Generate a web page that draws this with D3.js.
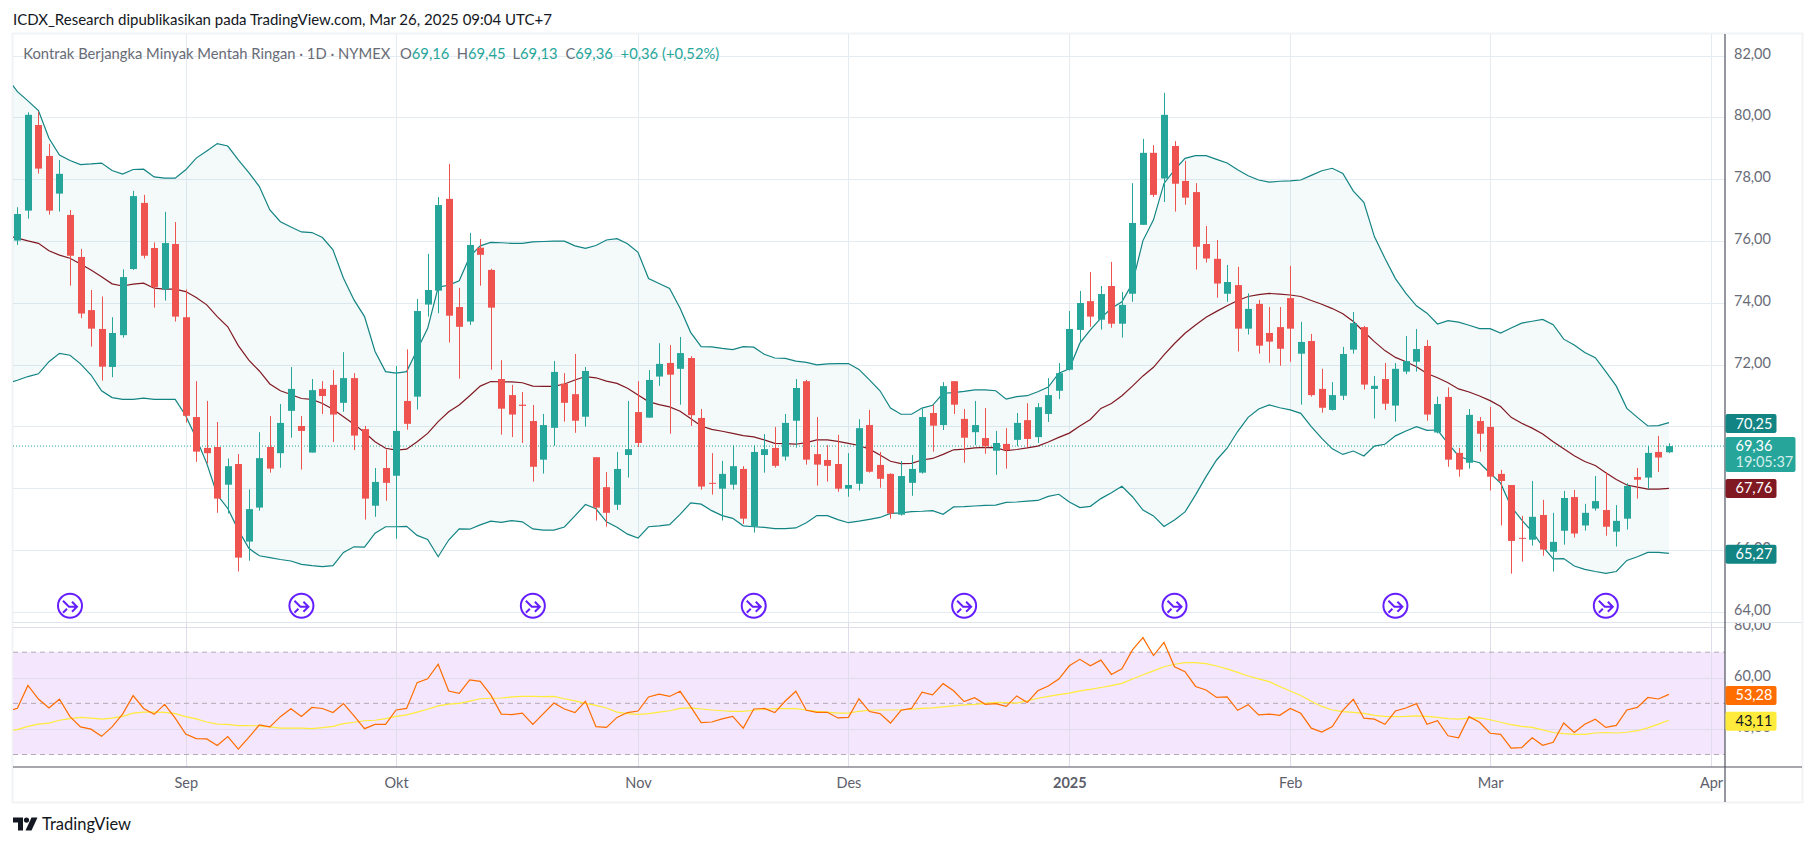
<!DOCTYPE html>
<head>
   <meta charset="utf-8">
   <script src="https://d3js.org/d3.v7.min.js"></script>
   <style>
   body{ margin: 0; background: #ffffff; }
   svg{ display: block; }
   text{ font-family: Lato, sans-serif; }
   .domain{ display: none; }
   .grid .tick line{ stroke: #e4ecf2; shape-rendering: crispEdges; }
   .grid text{ display: none; }
   .priceAxis text{ font-size: 14.5px; fill: #686b76; }
   .timeAxis text{ font-size: 14.5px; fill: #5d606b; }
   .priceAxis line, .timeAxis line{ display: none; }
   </style>
</head>

<body>
   <script>
// candles, one entry per daily bar
const open = [76.01,76.98,79.75,78.75,77.53,76.84,75.48,73.76,73.15,71.92,72.95,75.09,77.23,75.77,74.43,75.9,73.53,70.3,69.3,69.33,68.11,68.78,66.27,67.37,69.33,69.13,70.5,70.01,69.15,71.21,71.34,70.76,71.56,69.91,67.43,68.65,68.4,70.82,70.96,73.94,74.39,77.36,73.86,73.39,75.78,75.06,71.53,71.01,70.7,70.17,68.92,69.95,71.38,71.04,70.31,69,68.03,67.46,69.07,70.46,70.28,71.61,72.05,71.86,72.21,70.27,68.17,67.98,68.11,68.62,66.75,69.07,69.3,69.02,70.18,71.46,69.1,68.91,68.78,67.98,68.14,70.04,68.75,68.46,67.14,68.17,68.5,70.43,70.04,71.46,70.24,69.81,69.62,69.21,69.43,69.56,70.2,69.65,70.4,71.15,71.83,73.12,74.05,73.45,74.54,73.32,74.29,76.52,78.85,78.02,79.07,77.94,77.58,75.9,75.42,74.29,74.57,73.16,73.96,73.02,73.21,74.15,72.35,72.76,71.21,70.53,70.99,72.48,73.21,71.21,71.53,70.67,71.77,72.09,72.6,69.8,70.95,69.14,68.82,70.17,69.98,68.46,68.1,66.39,66.33,67.13,65.94,66.62,67.71,66.79,67.34,67.29,66.59,67.01,68.36,68.34,69.17,69.16];
const high = [77.09,80.16,80.18,79.14,78.62,77,75.74,74.41,74.2,73.53,75.08,77.62,77.49,75.95,76.94,76.61,74.43,71.46,70.82,70.14,68.96,69.1,67.96,69.81,70.33,70.72,71.92,70.33,71.53,71.46,71.82,72.4,71.72,70.01,68.65,69.25,71.95,72.49,74.12,75.58,77.42,78.49,74.48,76.26,76.06,75.1,72.14,71.34,71.11,70.69,70.4,72.11,71.72,72.34,71.92,69,68.52,69.17,70.82,71.46,71.82,72.69,72.63,72.89,72.27,70.56,69.13,68.88,69.39,68.71,69.39,69.75,69.98,70.4,71.53,71.5,70.3,69.39,69.72,69.13,70.23,70.53,69.17,68.48,68.88,69.07,70.56,70.69,71.43,71.46,70.56,70.82,70.59,69.85,69.94,70.43,70.75,70.75,71.56,72.05,73.73,74.38,74.99,74.54,75.32,74.35,77.87,79.3,79.1,80.79,79.23,78.59,77.87,76.48,76.03,75.22,75.16,74.3,74.09,73.86,73.86,75.19,73.38,72.99,71.86,71.43,72.57,73.7,73.25,71.63,72.05,72.05,72.92,73.15,72.79,70.96,71.26,69.3,70.56,70.3,70.63,68.59,68.1,67.1,68.23,67.62,67.2,67.91,67.94,67.49,68.39,68.52,67.45,68.16,68.65,69.36,69.69,69.45];
const low = [75.87,76.72,78.18,76.85,76.95,74.55,73.5,72.58,71.48,71.59,72.87,75.06,75.43,73.84,74.07,73.39,70.12,68.85,68.8,67.2,67.18,65.3,65.65,67.27,68.5,68.66,69.63,68.6,69.15,70.4,69.49,70.47,69.23,66.98,67.07,67.59,66.36,69.89,70.54,73.55,73.66,72.71,71.54,73.28,74.55,71.83,69.73,69.65,69.46,68.21,68.47,69.37,70.15,69.79,69.99,66.95,66.75,67.29,68.34,69.33,70.28,71.31,69.76,70.7,70.01,67.95,67.79,66.95,67.95,66.84,66.56,68.5,68.66,68.89,69.31,68.76,68.08,68.21,67.88,67.72,67.92,68.5,68.01,67.01,67.11,67.75,68.47,69.18,69.88,70.4,68.82,69.39,69.11,68.43,68.63,69.36,69.33,69.46,70.14,70.88,71.8,72.74,73.22,73.13,73.19,72.87,74.03,76.52,77.42,77.26,76.95,77.17,75.07,75.3,74.16,74.03,72.42,72.97,72.35,72.06,71.96,72.09,70.7,70.96,70.44,70.51,70.85,72.35,71.19,70.25,70.53,70.15,71.69,71.77,70.18,69.77,68.69,68.37,68.63,69.18,67.92,66.79,65.23,65.62,66.14,65.81,65.3,66.17,66.4,66.62,67.27,66.46,66.11,66.66,67.66,67.97,68.52,69.13];
const close = [76.87,80.08,78.34,76.98,78.17,75.52,73.65,73.16,71.93,73.02,74.83,77.45,75.52,74.5,75.93,73.55,70.34,69.18,69.13,67.66,68.71,65.75,67.32,68.97,68.63,70.11,71.21,69.85,71.17,70.98,70.38,71.56,69.7,67.66,68.2,68.17,69.85,70.08,73.73,74.41,77.16,73.58,73.22,75.87,75.55,73.84,70.57,70.38,70.66,68.69,70.04,71.76,70.76,70.18,71.79,67.37,67.2,68.62,69.26,69.46,71.5,72.02,71.67,72.37,70.36,68.05,68.14,68.46,68.71,67.01,69.17,69.26,68.72,70.11,71.24,68.92,68.76,68.72,67.98,68.1,69.94,68.53,68.3,67.18,68.39,68.62,70.3,70.02,71.3,70.7,69.63,70.04,69.36,69.46,69.23,70.11,69.59,70.62,71.01,71.72,73.15,73.99,73.55,74.28,73.32,73.93,76.58,78.85,77.49,80.08,77.85,77.4,75.81,75.43,74.62,74.67,73.16,73.8,72.61,72.74,72.51,73.16,72.73,71.01,70.6,71.01,72.34,73.34,71.35,71.31,70.73,71.86,72.11,72.5,70.38,70.72,68.92,68.6,70.37,69.76,68.37,68.23,66.29,66.36,67.07,66.01,66.26,67.68,66.53,67.2,67.58,66.75,66.94,68.07,68.27,69.14,68.99,69.36];

// bollinger bands, first entry is one bar before the first candle
const bbUpper = [81.28,80.83,80.53,80.22,79.32,78.78,78.6,78.47,78.49,78.52,78.28,78.16,78.31,78.32,78.07,78.03,78.03,78.3,78.68,78.91,79.15,79.07,78.62,78.21,77.76,77,76.62,76.45,76.29,76.27,76.11,75.71,74.79,74.09,73.55,72.42,71.77,71.72,71.77,72.47,73.17,74.5,74.57,74.71,75.49,75.84,75.95,75.94,75.92,75.92,75.97,75.98,75.99,75.99,75.84,75.76,75.85,76.03,76.07,75.91,75.63,74.78,74.62,74.46,73.82,73.04,72.58,72.57,72.52,72.48,72.58,72.56,72.33,72.21,72.2,72.11,72.07,71.99,72.02,72.03,72.03,71.84,71.5,71.15,70.59,70.39,70.39,70.59,70.68,71.07,71.09,71.13,71.18,71.18,71.15,70.88,70.96,70.99,71.12,71.27,71.72,71.86,72.69,73.12,73.5,73.82,74.03,74.63,76.01,76.68,77.86,78.3,78.67,78.76,78.76,78.64,78.52,78.3,78.11,77.97,77.9,77.93,77.94,77.97,78.12,78.27,78.35,78.18,77.61,77.25,76.14,75.44,74.78,74.3,73.9,73.66,73.31,73.42,73.37,73.27,73.16,73.16,73.02,73.18,73.34,73.4,73.46,73.29,72.82,72.63,72.39,72.22,71.77,71.3,70.58,70.29,70.01,70.02,70.12];
const bbBasis = [76.16,76.09,76,75.92,75.68,75.54,75.44,75.25,75.06,74.84,74.61,74.54,74.6,74.63,74.47,74.44,74.44,74.36,74.17,73.93,73.55,73.22,72.61,72.14,71.79,71.37,71.15,71.03,70.9,70.87,70.74,70.55,70.31,70.07,69.8,69.5,69.29,69.23,69.26,69.5,69.77,70.15,70.47,70.69,70.99,71.3,71.45,71.44,71.44,71.41,71.3,71.29,71.29,71.37,71.5,71.61,71.57,71.46,71.39,71.23,71.01,70.8,70.7,70.63,70.49,70.25,70.01,69.9,69.84,69.77,69.7,69.66,69.56,69.45,69.44,69.42,69.47,69.56,69.56,69.51,69.45,69.38,69.26,69.07,68.87,68.79,68.8,68.91,68.96,69.09,69.24,69.26,69.3,69.32,69.31,69.21,69.25,69.3,69.36,69.49,69.64,69.78,70.01,70.22,70.58,70.74,70.99,71.3,71.63,71.91,72.31,72.68,73.01,73.28,73.53,73.72,73.9,74.07,74.2,74.26,74.3,74.28,74.25,74.2,74.07,73.95,73.81,73.64,73.39,73.06,72.74,72.45,72.23,72.09,71.93,71.71,71.57,71.41,71.21,71.11,70.98,70.83,70.64,70.29,70.1,69.94,69.75,69.5,69.27,69.05,68.86,68.73,68.5,68.28,68.1,68.03,67.97,67.97,67.99];
const bbLower = [71.39,71.49,71.61,71.7,72.09,72.36,72.3,72.02,71.66,71.15,70.93,70.87,70.87,70.91,70.87,70.87,70.87,70.34,69.61,68.8,67.78,67.34,66.64,66.05,65.81,65.75,65.69,65.64,65.53,65.49,65.46,65.49,65.92,66.1,66.09,66.54,66.75,66.75,66.76,66.47,66.34,65.78,66.32,66.68,66.67,66.81,66.93,66.89,66.95,66.91,66.68,66.64,66.64,66.74,67.1,67.47,67.33,66.91,66.73,66.51,66.38,66.75,66.78,66.82,67.15,67.52,67.48,67.27,67.11,67.02,66.78,66.75,66.73,66.69,66.69,66.71,66.88,67.11,67.11,66.98,66.88,66.93,66.99,67.05,67.18,67.2,67.24,67.25,67.27,67.15,67.39,67.4,67.42,67.44,67.45,67.54,67.55,67.58,67.6,67.73,67.8,67.55,67.37,67.41,67.66,67.85,68.06,67.72,67.29,67.1,66.76,66.97,67.23,67.78,68.37,68.91,69.29,69.83,70.29,70.56,70.69,70.6,70.53,70.42,69.99,69.61,69.27,69.09,69.2,69.04,69.36,69.42,69.69,69.85,69.99,69.87,69.88,69.45,69.04,68.91,68.82,68.48,68.16,67.4,66.97,66.59,66.11,65.71,65.72,65.48,65.37,65.3,65.24,65.3,65.66,65.78,65.92,65.92,65.89];

// rsi pane, same first entry rule
const rsi = [46.8,48.05,57,51.7,48.2,51.6,44.8,40.8,39.9,37.1,40.8,45.8,53,48,45.7,49.6,44.2,38,36.2,36.1,33.5,37,32.1,36.7,41.6,40.8,44.8,47.9,44.9,48.4,48,46.4,49.9,45.1,40.1,41.8,41.8,47.4,48,58.1,59.6,65.3,54.8,53.9,59.2,58.6,53.3,45.8,45.6,46.2,41.8,46,50.1,47.8,46.4,50.8,40.9,40.6,44.5,46.4,47,52.5,53.6,52.7,54.7,48.7,42.5,42.7,43.9,44.9,40.3,47.8,48,46.4,50.9,54.7,47.3,46.5,46.5,44.3,44.5,51.8,46.8,46,42.3,47.3,48,54.4,53.3,57.7,54.9,50.7,52.2,49.6,49.9,48.8,52.9,50.3,54.9,56.8,59.5,64.7,67.2,64.7,66.9,61.3,63.5,70.9,75.7,68.7,73.8,64.3,62.4,56.6,55.2,52.3,52.5,47.3,49.5,45.5,45.8,45.3,48,46.1,40.3,38.8,40.9,47.3,51.6,44.2,43.8,41.8,47,48.2,49.9,41.8,43.2,37.3,36.5,44.8,42.6,38.3,37.9,32.5,32.7,36.5,33.6,34.8,42.3,38.6,41.8,43.8,40.6,41.4,47.4,48.4,52.3,51.7,53.5];
const rsiMa = [39.2,39.7,41,41.9,42.3,43.4,44,44.5,44.2,43.8,44.2,44.9,46.2,46.6,46.6,46.5,46,44.8,43.9,42.7,41.9,41.8,41.3,41.3,41.2,40.8,40.3,40.3,40.3,40.1,40.5,41,42.1,42.6,43.2,43.4,44,44.9,45.5,46.6,47.7,49,49.7,50,50.9,51.8,52,52.1,52.5,52.7,52.7,52.6,52.7,51.8,51,50,49.2,48.2,46.6,46,45.7,46,46.6,47.1,48,48.2,47.8,47.4,47.1,46.9,46.9,47.3,47.7,47.9,47.9,47.9,47.4,46.9,46.6,46.2,46.2,46.9,47.3,47.4,47.4,47.5,47.7,48,48.2,48.6,49,49.4,49.6,50,50.4,50.3,50.1,51,52,52.7,53.4,54,54.9,55.5,56.2,56.9,57.8,59.5,61.2,62.7,64.3,65.3,65.9,65.9,65.5,64.6,63.5,62.1,60.7,59.6,58.5,56.6,54.8,53.1,50.8,48.8,47.4,46.8,46.5,46.1,45.3,44.9,44.8,44.9,45.1,44.9,44.5,44,43.8,44.2,44.3,43.6,42.6,41.7,41,40.6,39.6,38.6,38.2,37.9,37.9,38.4,38.6,38.4,38.7,39.3,40.4,41.9,43.4];

const priceTicks = [82,80,78,76,74,72,70,68,66,64];
// 70 and 68 sit fully behind the value tags
const priceLabelTicks = [82,80,78,76,74,72,66,64];
const rsiTicks = [80,60,40];
const rsiLevels = [70,50,30];
const timeBars = [16,36,59,79,100,121,140,161];
const timeLabels = ['Sep','Okt','Nov','Des','2025','Feb','Mar','Apr'];
const eventBars = [5,27,49,70,90,110,131,151];

const titleText = 'ICDX_Research dipublikasikan pada TradingView.com, Mar 26, 2025 09:04 UTC+7';
const legendName = 'Kontrak Berjangka Minyak Mentah Ringan · 1D · NYMEX';
const legendOhlc = [['O','69,16'],['H','69,45'],['L','69,13'],['C','69,36']];
const legendChange = '+0,36 (+0,52%)';
const countdown = '19:05:37';

const width = 1814, height = 846;
const frame = {left: 13, right: 1802, top: 34, bottom: 802};
const axisX = 1725, timeY = 767, paneY = 622.5;

const up = '#26a69a', down = '#ef5350', bandCol = '#138484', basisCol = '#801922';
const rsiCol = '#ff6d00', maCol = '#ffeb3b', eventCol = '#651fff';

var svg = d3.select('body').append('svg')
   .attr('width', width)
   .attr('height', height);

const x = d3.scaleLinear().domain([0,161]).range([17.4,1711]);
const y = d3.scaleLinear().domain([64,82]).range([611.7,55.5]);
const yRsi = d3.scaleLinear().domain([30,70]).range([754.5,652.2]);

const fmt = d => d.toFixed(2).replace('.',',');
const candleW = 7;

let defs = svg.append('defs');
defs.append('clipPath').attr('id','mainClip').append('rect')
   .attr('x',frame.left).attr('y',frame.top).attr('width',axisX-frame.left).attr('height',paneY-frame.top);
defs.append('clipPath').attr('id','rsiClip').append('rect')
   .attr('x',frame.left).attr('y',paneY).attr('width',axisX-frame.left).attr('height',timeY-paneY);
defs.append('clipPath').attr('id','rsiAxisClip').append('rect')
   .attr('x',axisX).attr('y',paneY).attr('width',frame.right-axisX).attr('height',timeY-paneY);

svg.append('text')
   .attr('x',13).attr('y',25)
   .style('font-size','15px').style('fill','#131722')
   .text(titleText);

// frame
svg.append('rect')
   .attr('x',frame.left-0.5).attr('y',frame.top-0.5)
   .attr('width',frame.right-frame.left+1).attr('height',frame.bottom-frame.top+1)
   .attr('fill','#ffffff').attr('stroke','#f2f3f5').attr('stroke-width',2);

let main = svg.append('g').attr('clip-path','url(#mainClip)');
let pane = svg.append('g').attr('clip-path','url(#rsiClip)');

// grids
main.append('g').attr('class','grid')
   .attr('transform',`translate(${axisX},0)`)
   .call(d3.axisLeft(y).tickValues(priceTicks).tickSize(axisX-frame.left));
main.append('g').attr('class','grid')
   .attr('transform',`translate(0,${paneY})`)
   .call(d3.axisBottom(x).tickValues(timeBars).tickSizeInner(-(paneY-frame.top)));

// rsi background goes under its own grid
pane.append('rect')
   .attr('x',frame.left).attr('width',axisX-frame.left)
   .attr('y',yRsi(70)).attr('height',yRsi(30)-yRsi(70))
   .attr('fill','#f4e6fc');
pane.append('g').attr('class','grid rsiGrid')
   .attr('transform',`translate(${axisX},0)`)
   .call(d3.axisLeft(yRsi).tickValues(rsiTicks).tickSize(axisX-frame.left));
pane.append('g').attr('class','grid rsiGrid')
   .attr('transform',`translate(0,${timeY})`)
   .call(d3.axisBottom(x).tickValues(timeBars).tickSizeInner(-(timeY-paneY)));
pane.selectAll('.rsiGrid .tick line').style('stroke','#dfdcec');
pane.selectAll('line.level')
   .data(rsiLevels)
   .enter()
   .append('line')
   .attr('class','level')
   .attr('x1',frame.left).attr('x2',axisX)
   .attr('y1',d => yRsi(d)).attr('y2',d => yRsi(d))
   .attr('stroke','#b3aab6').attr('stroke-dasharray','5,4');

// bollinger fill and lines
const barOf = i => x(i-1);
let bandArea = d3.area()
   .x((d,i) => barOf(i))
   .y0((d,i) => y(bbLower[i]))
   .y1(d => y(d));
let priceLine = d3.line().x((d,i) => barOf(i)).y(d => y(d));
let rsiLine = d3.line().x((d,i) => barOf(i)).y(d => yRsi(d));

main.append('path').datum(bbUpper)
   .attr('d',bandArea).attr('fill',up).attr('fill-opacity',0.05);

// price line
main.append('line')
   .attr('x1',frame.left).attr('x2',axisX)
   .attr('y1',y(close[close.length-1])).attr('y2',y(close[close.length-1]))
   .attr('stroke',up).attr('stroke-dasharray','1,2');

[[bbUpper,bandCol],[bbLower,bandCol],[bbBasis,basisCol]].forEach(s => {
   main.append('path').datum(s[0])
      .attr('d',priceLine)
      .attr('fill','none').attr('stroke',s[1]).attr('stroke-width',1.2);
});

// candles
const bars = d3.range(open.length);
const colOf = i => close[i] >= open[i] ? up : down;
main.selectAll('line.wick')
   .data(bars)
   .enter()
   .append('line')
   .attr('class','wick')
   .attr('x1',i => Math.round(x(i))+0.5).attr('x2',i => Math.round(x(i))+0.5)
   .attr('y1',i => y(high[i])).attr('y2',i => y(low[i]))
   .attr('stroke',colOf);
main.selectAll('rect.body')
   .data(bars)
   .enter()
   .append('rect')
   .attr('class','body')
   .attr('x',i => Math.round(x(i))+0.5-candleW/2)
   .attr('width',candleW)
   .attr('y',i => y(Math.max(open[i],close[i])))
   .attr('height',i => Math.max(1,Math.abs(y(open[i])-y(close[i]))))
   .attr('fill',colOf);

// event markers
let marks = svg.selectAll('g.event')
   .data(eventBars)
   .enter()
   .append('g')
   .attr('class','event')
   .attr('transform',d => `translate(${x(d)},605.7)`);
marks.append('circle').attr('r',12)
   .attr('fill','#ffffff').attr('stroke',eventCol).attr('stroke-width',2);
marks.append('path')
   .attr('d','M-7,-5 L-1,1 L7,1 M2,-4 L7,1 L2,6 M-7,7 L-3,3')
   .attr('fill','none').attr('stroke',eventCol).attr('stroke-width',2);

// rsi lines
pane.append('path').datum(rsiMa)
   .attr('d',rsiLine).attr('fill','none').attr('stroke',maCol).attr('stroke-width',1.2);
pane.append('path').datum(rsi)
   .attr('d',rsiLine).attr('fill','none').attr('stroke',rsiCol).attr('stroke-width',1.2);

// axes
let priceAxis = svg.append('g').attr('class','priceAxis')
   .attr('transform',`translate(${axisX+9},-2)`)
   .call(d3.axisRight(y).tickValues(priceLabelTicks).tickSize(0).tickPadding(0).tickFormat(fmt));
let rsiAxis = svg.append('g').attr('clip-path','url(#rsiAxisClip)')
   .append('g').attr('class','priceAxis')
   .attr('transform',`translate(${axisX+9},-2)`)
   .call(d3.axisRight(yRsi).tickValues(rsiTicks).tickSize(0).tickPadding(0).tickFormat(fmt));
let timeAxis = svg.append('g').attr('class','timeAxis')
   .attr('transform',`translate(0,${timeY+5})`)
   .call(d3.axisBottom(x).tickValues(timeBars).tickSize(0).tickPadding(6).tickFormat((d,i) => timeLabels[i]));
timeAxis.selectAll('.tick text').filter((d,i) => timeLabels[i] == '2025').style('font-weight',700);

svg.append('line').attr('x1',frame.left).attr('x2',frame.right).attr('y1',paneY).attr('y2',paneY)
   .attr('stroke','#dfe3ec');
svg.append('line').attr('x1',frame.left).attr('x2',frame.right).attr('y1',timeY).attr('y2',timeY)
   .attr('stroke','#50535e').attr('stroke-width',1.2);
svg.append('line').attr('x1',axisX).attr('x2',axisX).attr('y1',frame.top).attr('y2',frame.bottom)
   .attr('stroke','#50535e').attr('stroke-width',1.2);

// last value labels
const lastLabels = [
   {value: '70,25', pos: y(bbUpper[bbUpper.length-1])+1, bg: bandCol, fg: '#ffffff'},
   {value: '67,76', pos: y(bbBasis[bbBasis.length-1]), bg: basisCol, fg: '#ffffff'},
   {value: '65,27', pos: y(bbLower[bbLower.length-1])+1, bg: bandCol, fg: '#ffffff'},
   {value: '53,28', pos: yRsi(rsi[rsi.length-1])+1, bg: rsiCol, fg: '#ffffff'},
   {value: '43,11', pos: yRsi(rsiMa[rsiMa.length-1])+1, bg: maCol, fg: '#131722'}
];
let tags = svg.selectAll('g.tag')
   .data(lastLabels)
   .enter()
   .append('g')
   .attr('class','tag')
   .attr('transform',d => `translate(${axisX+0.5},${d.pos})`);
tags.append('rect')
   .attr('y',-9.5).attr('width',51).attr('height',19).attr('rx',2)
   .attr('fill',d => d.bg);
tags.append('text')
   .attr('x',10).attr('y',5)
   .style('font-size','14.5px').style('fill',d => d.fg)
   .text(d => d.value);

let lastTag = svg.append('g').attr('transform',`translate(${axisX+0.5},${y(close[close.length-1])})`);
lastTag.append('rect').attr('y',-9).attr('width',70).attr('height',35).attr('rx',2).attr('fill',up);
lastTag.append('text').attr('x',10).attr('y',4.5)
   .style('font-size','14.5px').style('fill','#ffffff').text(fmt(close[close.length-1]));
lastTag.append('text').attr('x',10).attr('y',20.5)
   .style('font-size','14.5px').style('fill','#d4edea').text(countdown);

// legend
let legend = svg.append('g').attr('transform','translate(23.3,58.5)').style('font-size','14.75px');
legend.append('text').attr('x',0).style('fill','#686b76').text(legendName);
const legendX = [376.7,433.4,489.2,542.1];
legendOhlc.forEach((d,i) => {
   let t = legend.append('text').attr('x',legendX[i]);
   t.append('tspan').style('fill','#686b76').text(d[0]);
   t.append('tspan').style('fill',up).text(d[1]);
});
legend.append('text').attr('x',597.3).style('fill',up).text(legendChange);

// logo
let logo = svg.append('g').attr('transform','translate(13,817.5)').attr('fill','#131722');
logo.append('path').attr('d','M0 0H10V13H5V5H0Z');
logo.append('circle').attr('cx',13.5).attr('cy',2.6).attr('r',2.6);
logo.append('path').attr('d','M24.5 0L18.5 13H12.5L18.5 0Z');
svg.append('text').attr('x',42).attr('y',830)
   .style('font-size','16.5px').style('fill','#131722').text('TradingView');
   </script>
</body>
